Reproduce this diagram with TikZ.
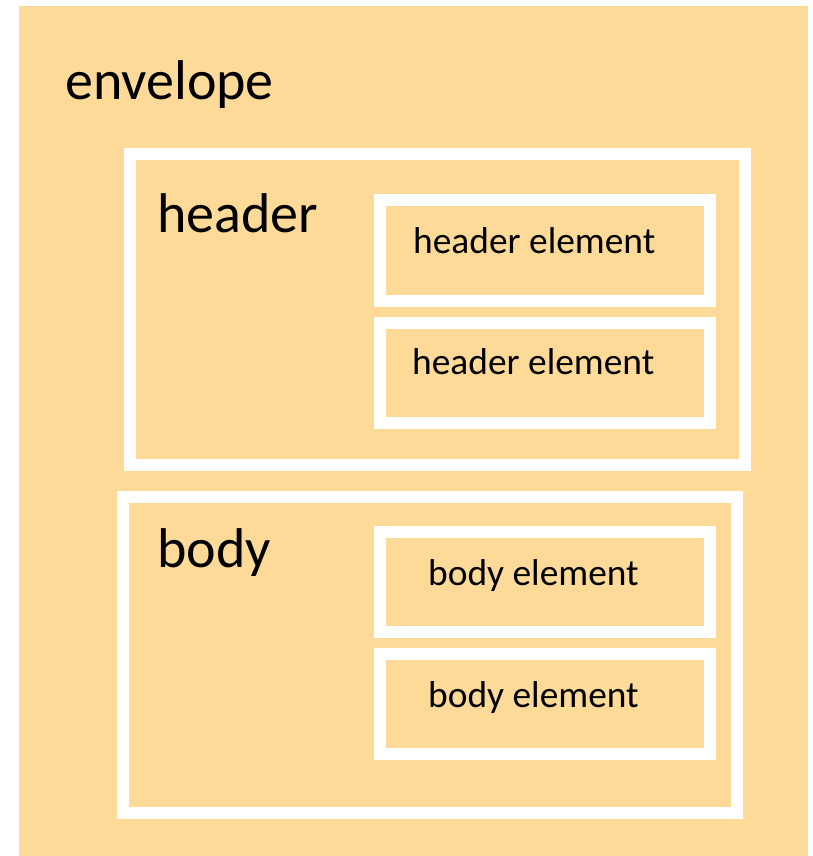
\documentclass[tikz,border=0pt]{standalone}
\usepackage{fontspec}
\setmainfont{Carlito}
\usepackage{tikz}
\usepackage{xcolor}
\usetikzlibrary{positioning}
\definecolor{envfill}{RGB}{254,218,152}

\begin{document}
\begin{tikzpicture}[x=1pt, y=-1pt,
		frame/.style={draw=white, line width=12pt, fill=envfill, inner sep=0pt, outer sep=0pt},
		big/.style={anchor=base west, inner sep=0pt, font=\fontsize{56}{60}\selectfont},
		small/.style={anchor=base west, inner sep=0pt, font=\fontsize{37.4}{40}\selectfont}]
			\useasboundingbox (0, 0) rectangle (812, 856);
			\node[fill=envfill, inner sep=0pt, minimum width=789pt, minimum height=850pt] at (413.5, 431) (envelope) {};
			
			\node[frame, minimum width=615pt, minimum height=311pt] at (437.5, 309.5) (header) {};
			\node[frame, minimum width=614pt, minimum height=316pt] at (430, 655) (body) {};
			
			\node[frame, minimum width=330.5pt, minimum height=101pt] at (544.75, 250.5) (he1) {};
			\node[frame, minimum width=330.5pt, minimum height=100pt] at (544.75, 372.5) (he2) {};
			\node[frame, minimum width=330.5pt, minimum height=99.5pt] at (544.75, 581.75) (be1) {};
			\node[frame, minimum width=330.5pt, minimum height=99.5pt] at (544.75, 703.75) (be2) {};
			
			\node[big] at (65, 100) (lenv) {envelope};
			\node[big] at (157, 232) (lhead) {header};
			\node[big] at (157, 567) (lbody) {body};
			
			\node[small] at (413, 253) (lhe1) {header element};
			\node[small] at (412, 374) (lhe2) {header element};
			\node[small] at (428, 585) (lbe1) {body element};
			\node[small] at (428, 707) (lbe2) {body element};
		\end{tikzpicture}
\end{document}
